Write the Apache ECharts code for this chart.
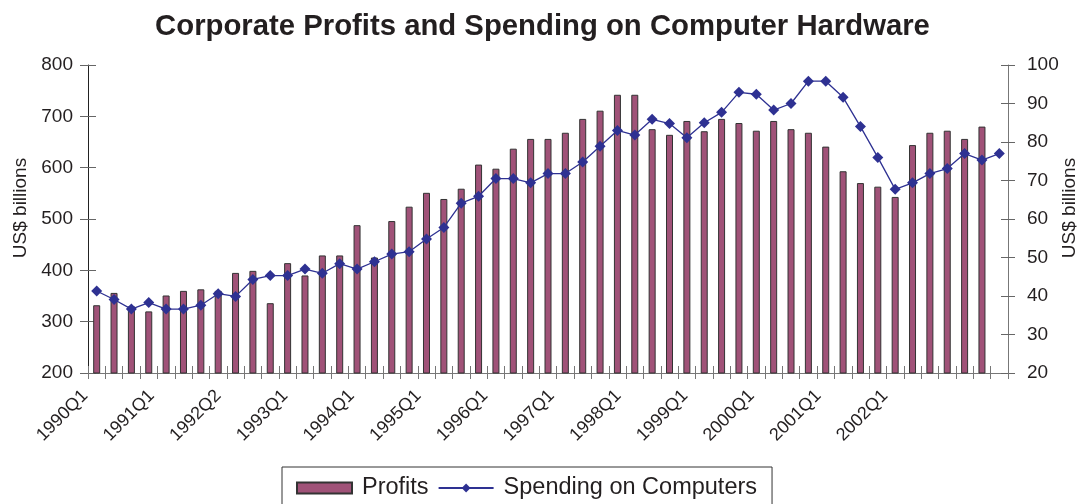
<!DOCTYPE html>
<html>
<head>
<meta charset="utf-8">
<script src="https://cdn.jsdelivr.net/npm/echarts@6/dist/echarts.min.js"></script>
<style>
  html, body { margin: 0; padding: 0; background: #fff; }
  #chart { width: 1085px; height: 504px; }
</style>
</head>
<body>
<div id="chart"></div>
<script>
// ---- Data ----
const startYear = 1990;
const quarterCount = 53; // 1990Q1 .. 2003Q1
const quarters = [];
for (let i = 0; i < quarterCount; i++) {
  quarters.push((startYear + Math.floor(i / 4)) + 'Q' + (i % 4 + 1));
}
const tickLabels = ['1990Q1','1991Q1','1992Q2','1993Q1','1994Q1','1995Q1','1996Q1',
                    '1997Q1','1998Q1','1999Q1','2000Q1','2001Q1','2002Q1'];
const profits = [332,356,330,320,351,360,363,360,395,399,336,414,390,429,429,488,
                 425,496,524,551,539,559,606,598,637,656,656,668,695,711,742,742,675,664,691,671,
                 695,687,672,691,675,668,641,593,570,563,543,644,668,672,656,680,null];
const computers = [41.3,39.1,36.6,38.3,36.6,36.6,37.6,40.6,39.9,44.3,45.3,45.3,47.0,45.9,48.4,47.0,
                   48.9,50.9,51.5,54.8,57.8,64.1,65.9,70.5,70.5,69.4,71.8,71.8,74.8,78.9,83.0,81.8,85.9,84.8,81.1,
                   85.0,87.7,92.9,92.4,88.3,90.0,95.8,95.8,91.6,84.0,76.0,67.7,69.4,71.8,73.1,77.0,75.3,77.0];

const FONT = 'Liberation Sans, Arial, sans-serif';
const TXT = '#231f20';
const BAR = '#A05278';
const LINE = '#2E3192';

const chart = echarts.init(document.getElementById('chart'), null, { renderer: 'canvas' });
chart.setOption({
  animation: false,
  backgroundColor: '#fff',
  title: {
    text: 'Corporate Profits and Spending on Computer Hardware',
    left: 'center', top: 7,
    textStyle: { fontFamily: FONT, fontSize: 29.3, fontWeight: 'bold', color: TXT }
  },
  legend: {
    left: 282, top: 467,
    itemWidth: 55, itemHeight: 11, itemGap: 9,
    padding: [9, 15, 20, 14],
    borderColor: '#333', borderWidth: 1,
    textStyle: { fontFamily: FONT, fontSize: 23.5, color: TXT, padding: [0, 0, 0, 5] },
    data: [
      { name: 'Profits', icon: 'rect' },
      { name: 'Spending on Computers' }
    ]
  },
  grid: [
    { left: 88, right: 77, top: 65, bottom: 131, containLabel: false, outerBoundsMode: 'none' },
    { left: 85, width: 800, top: 373, height: 1, containLabel: false, outerBoundsMode: 'none' }
  ],
  xAxis: [
    {
      type: 'category', gridIndex: 0, data: quarters, position: 'bottom',
      axisLine: { lineStyle: { color: '#777', width: 1 } },
      axisTick: { show: true, interval: 0, length: 6, lineStyle: { color: '#777' } },
      axisLabel: { show: false }
    },
    {
      type: 'category', gridIndex: 0, data: quarters, position: 'bottom',
      axisLine: { show: false },
      axisTick: { show: true, interval: 0, inside: true, length: 7, lineStyle: { color: '#777' } },
      axisLabel: { show: false }
    },
    {
      type: 'category', gridIndex: 1, data: tickLabels, boundaryGap: false, position: 'bottom',
      axisLine: { show: false }, axisTick: { show: false },
      axisLabel: { rotate: 45, margin: 19, fontFamily: FONT, fontSize: 18, color: TXT, interval: 0 }
    }
  ],
  yAxis: [
    {
      type: 'value', gridIndex: 0, position: 'left', min: 200, max: 800, interval: 100,
      name: 'US$ billions', nameLocation: 'middle', nameGap: 58, nameRotate: 90,
      nameMoveOverlap: false,
      nameTextStyle: { fontFamily: FONT, fontSize: 19, color: TXT, padding: [0, 0, 0, 22] },
      axisLine: { show: true, lineStyle: { color: '#222', width: 1 } },
      axisTick: { show: true, length: 8, lineStyle: { color: '#666' } },
      axisLabel: { fontFamily: FONT, fontSize: 19, color: TXT, margin: 15 },
      splitLine: { show: false }
    },
    {
      type: 'value', gridIndex: 0, position: 'right', min: 20, max: 100, interval: 10,
      name: 'US$ billions', nameLocation: 'middle', nameGap: 52, nameRotate: 90,
      nameMoveOverlap: false,
      nameTextStyle: { fontFamily: FONT, fontSize: 19, color: TXT, padding: [0, 0, 0, 22] },
      axisLine: { show: true, lineStyle: { color: '#777', width: 1 } },
      axisTick: { show: true, length: 7, lineStyle: { color: '#666' } },
      axisLabel: { fontFamily: FONT, fontSize: 19, color: TXT, margin: 19 },
      splitLine: { show: false }
    },
    {
      type: 'value', gridIndex: 0, position: 'left', min: 200, max: 800, interval: 100,
      axisLine: { show: false },
      axisTick: { show: true, inside: true, length: 8, lineStyle: { color: '#666' } },
      axisLabel: { show: false }, splitLine: { show: false }
    },
    {
      type: 'value', gridIndex: 0, position: 'right', min: 20, max: 100, interval: 10,
      axisLine: { show: false },
      axisTick: { show: true, inside: true, length: 7, lineStyle: { color: '#666' } },
      axisLabel: { show: false }, splitLine: { show: false }
    },
    { type: 'value', gridIndex: 1, show: false }
  ],
  series: [
    {
      name: 'Profits', type: 'bar', xAxisIndex: 0, yAxisIndex: 0,
      data: profits, barWidth: 7,
      itemStyle: { color: BAR, borderColor: '#333', borderWidth: 1 }
    },
    {
      name: 'Spending on Computers', type: 'line', xAxisIndex: 0, yAxisIndex: 1,
      data: computers, symbol: 'diamond', symbolSize: 11,
      lineStyle: { color: LINE, width: 1.3 },
      itemStyle: { color: LINE }
    }
  ]
});
</script>
</body>
</html>
